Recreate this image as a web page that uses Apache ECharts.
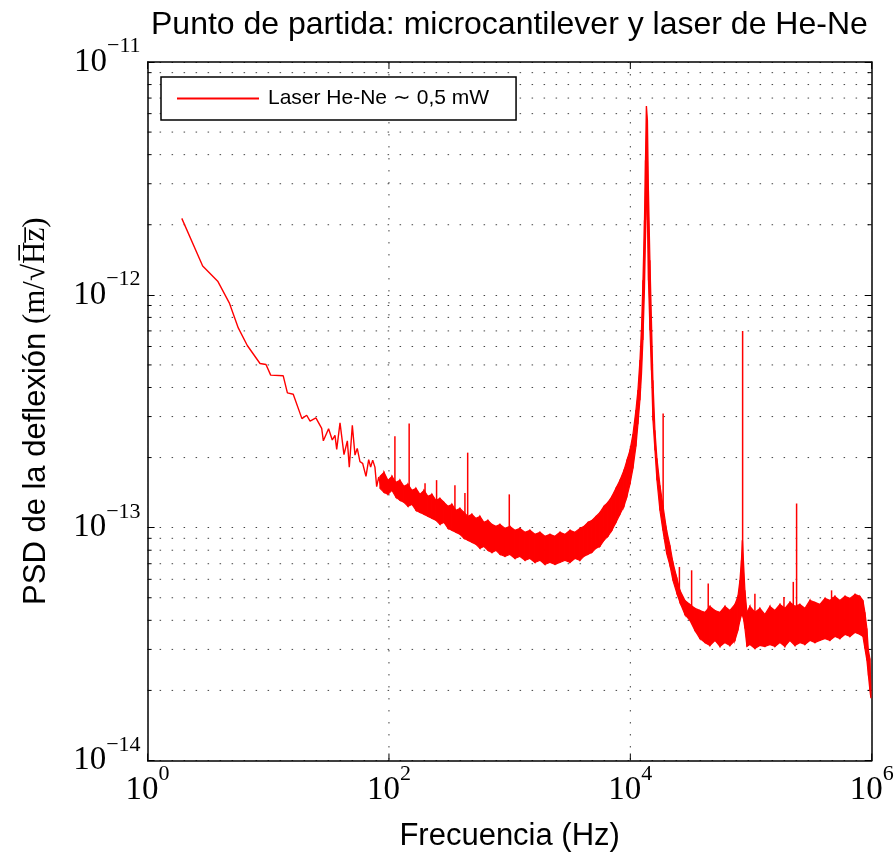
<!DOCTYPE html>
<html><head><meta charset="utf-8">
<script src="https://cdn.jsdelivr.net/npm/echarts@6/dist/echarts.min.js"></script>
<style>html,body{margin:0;padding:0;background:#fff}#c{width:895px;height:859px}</style>
</head><body><div id="c"></div>
<script>
const seriesName = 'Laser He-Ne \u223C 0,5 mW';
// low-frequency part (single trace)
const lowFreq = [1.92, 2.86, 3.81, 4.75, 5.64, 6.70, 8.54, 9.57, 10.47, 13.3, 14.4, 16.1, 19.0, 20.8, 22.2, 24.8, 27.7, 28.6, 31.6, 33.9, 35.7, 36.9, 39.3, 42.4, 45.2, 46.9, 49.7, 52.3, 54.6, 57.5, 60.5, 64.5, 67.9, 70.5, 73.3, 76.5, 79.1, 82.2, 85.3];
const lowPsd = [2.13e-12, 1.33e-12, 1.145e-12, 9.24e-13, 7.21e-13, 6.06e-13, 5.07e-13, 5.02e-13, 4.52e-13, 4.49e-13, 3.79e-13, 3.74e-13, 2.94e-13, 3.04e-13, 2.87e-13, 2.96e-13, 2.67e-13, 2.36e-13, 2.66e-13, 2.38e-13, 2.49e-13, 2.17e-13, 2.82e-13, 2.06e-13, 2.36e-13, 1.82e-13, 2.75e-13, 2.05e-13, 2.19e-13, 1.92e-13, 1.89e-13, 1.66e-13, 1.96e-13, 1.82e-13, 1.95e-13, 1.82e-13, 1.50e-13, 1.65e-13, 1.52e-13];
// dense noisy part: upper and lower envelope of the trace
const bandFreq = [84.2, 90.9, 98.1, 105.9, 114.3, 123.4, 133.1, 143.7, 155.1, 167.4, 180.6, 195.0, 210.4, 227.1, 245.1, 264.6, 285.5, 308.2, 332.6, 359.0, 387.5, 418.2, 451.4, 487.2, 525.8, 567.5, 612.5, 661.1, 713.5, 770.1, 831.2, 914.4, 1006, 1106, 1217, 1339, 1473, 1620, 1783, 1961, 2157, 2373, 2611, 2872, 3159, 3476, 3823, 4127, 4455, 4808, 5188, 5601, 6045, 6524, 7041, 7600, 8202, 8852, 9374, 9924, 10509, 11127, 11561, 12012, 12361, 12720, 13089, 13341, 13598, 13859, 14126, 14536, 14958, 15392, 15991, 16613, 17591, 18626, 19985, 21288, 22544, 24326, 25757, 28336, 31173, 34294, 37728, 41505, 45660, 50231, 55260, 60793, 66879, 73574, 77892, 80920, 83270, 84877, 86511, 89027, 92490, 97924, 107727, 118513, 130377, 143430, 157789, 173587, 190966, 210085, 231117, 254256, 279710, 307714, 338521, 372412, 409697, 450714, 495837, 545478, 600089, 660167, 726261, 798971, 845860, 878430, 912530, 939000, 966300, 984900];
const bandUpper = [1.661e-13, 1.728e-13, 1.597e-13, 1.661e-13, 1.565e-13, 1.597e-13, 1.505e-13, 1.535e-13, 1.446e-13, 1.475e-13, 1.390e-13, 1.446e-13, 1.363e-13, 1.390e-13, 1.310e-13, 1.336e-13, 1.285e-13, 1.235e-13, 1.259e-13, 1.187e-13, 1.210e-13, 1.163e-13, 1.118e-13, 1.141e-13, 1.096e-13, 1.118e-13, 1.054e-13, 1.075e-13, 1.033e-13, 1.013e-13, 1.033e-13, 9.93e-14, 1.013e-13, 9.74e-14, 9.93e-14, 9.55e-14, 9.74e-14, 9.36e-14, 9.55e-14, 9.18e-14, 9.36e-14, 9.18e-14, 9.55e-14, 9.36e-14, 9.74e-14, 9.55e-14, 9.93e-14, 1.013e-13, 1.054e-13, 1.075e-13, 1.118e-13, 1.163e-13, 1.235e-13, 1.285e-13, 1.363e-13, 1.475e-13, 1.597e-13, 1.763e-13, 1.946e-13, 2.149e-13, 2.517e-13, 3.198e-13, 3.898e-13, 5.248e-13, 7.045e-13, 1.155e-12, 2.092e-12, 3.788e-12, 6.464e-12, 5.628e-12, 2.815e-12, 1.408e-12, 7.78e-13, 4.295e-13, 2.619e-13, 1.985e-13, 1.520e-13, 1.247e-13, 9.74e-14, 8.39e-14, 7.09e-14, 6.06e-14, 5.38e-14, 4.87e-14, 4.68e-14, 4.50e-14, 4.41e-14, 4.33e-14, 4.59e-14, 4.41e-14, 4.33e-14, 4.59e-14, 4.41e-14, 4.68e-14, 5.07e-14, 5.94e-14, 7.24e-14, 8.82e-14, 7.24e-14, 5.38e-14, 4.33e-14, 4.59e-14, 4.33e-14, 4.50e-14, 4.24e-14, 4.59e-14, 4.41e-14, 4.68e-14, 4.50e-14, 4.78e-14, 4.59e-14, 4.68e-14, 4.50e-14, 4.87e-14, 4.78e-14, 4.68e-14, 4.97e-14, 4.87e-14, 5.07e-14, 4.87e-14, 5.07e-14, 4.97e-14, 5.17e-14, 5.07e-14, 4.87e-14, 4.33e-14, 3.69e-14, 2.97e-14, 2.74e-14, 2.00e-14];
const bandLower = [1.475e-13, 1.418e-13, 1.390e-13, 1.446e-13, 1.35e-13, 1.310e-13, 1.285e-13, 1.235e-13, 1.259e-13, 1.187e-13, 1.163e-13, 1.141e-13, 1.118e-13, 1.096e-13, 1.075e-13, 1.033e-13, 1.054e-13, 9.93e-14, 9.74e-14, 9.55e-14, 9.36e-14, 9.00e-14, 8.82e-14, 8.65e-14, 8.48e-14, 8.15e-14, 8.31e-14, 7.99e-14, 7.83e-14, 7.99e-14, 7.68e-14, 7.53e-14, 7.68e-14, 7.38e-14, 7.53e-14, 7.24e-14, 7.38e-14, 7.09e-14, 7.24e-14, 6.95e-14, 7.09e-14, 6.95e-14, 7.09e-14, 7.24e-14, 7.09e-14, 7.38e-14, 7.24e-14, 7.53e-14, 7.68e-14, 7.83e-14, 8.15e-14, 8.31e-14, 8.82e-14, 9.18e-14, 9.74e-14, 1.054e-13, 1.141e-13, 1.235e-13, 1.363e-13, 1.535e-13, 1.798e-13, 2.235e-13, 2.779e-13, 3.531e-13, 4.515e-13, 6.396e-13, 1.049e-12, 1.717e-12, 2.550e-12, 2.092e-12, 1.155e-12, 7.045e-13, 4.744e-13, 2.892e-13, 2.149e-13, 1.597e-13, 1.187e-13, 9.74e-14, 7.75e-14, 6.89e-14, 5.94e-14, 5.22e-14, 4.78e-14, 4.24e-14, 4.00e-14, 3.62e-14, 3.34e-14, 3.21e-14, 3.12e-14, 3.28e-14, 3.09e-14, 3.21e-14, 3.12e-14, 3.28e-14, 3.62e-14, 4.00e-14, 4.20e-14, 4.20e-14, 4.08e-14, 3.69e-14, 3.09e-14, 3.15e-14, 3.03e-14, 3.12e-14, 3.09e-14, 3.15e-14, 3.09e-14, 3.21e-14, 3.09e-14, 3.28e-14, 3.12e-14, 3.21e-14, 3.15e-14, 3.28e-14, 3.21e-14, 3.28e-14, 3.34e-14, 3.28e-14, 3.41e-14, 3.34e-14, 3.48e-14, 3.41e-14, 3.55e-14, 3.48e-14, 3.41e-14, 3.03e-14, 2.69e-14, 2.32e-14, 2.00e-14, 1.85e-14];
// narrow spurious peaks
const spikeFreq = [112, 147, 199, 248, 352, 426, 449, 993, 18700, 25500, 32200, 44200, 85200, 107700, 187500, 224000, 238600, 465000];
const spikeBase = [1.50e-13, 1.40e-13, 1.30e-13, 1.25e-13, 1.10e-13, 1.05e-13, 1.05e-13, 0.90e-13, 1.20e-13, 5.0e-14, 4.5e-14, 4.3e-14, 5.0e-14, 4.3e-14, 4.4e-14, 4.6e-14, 4.6e-14, 4.8e-14];
const spikePeak = [2.47e-13, 2.80e-13, 1.55e-13, 1.60e-13, 1.52e-13, 1.41e-13, 2.10e-13, 1.39e-13, 3.09e-13, 6.78e-14, 6.56e-14, 5.75e-14, 7.0e-13, 5.2e-14, 5.04e-14, 5.85e-14, 1.27e-13, 5.38e-14];
// tick values
const xMajor = [1, 1e2, 1e4, 1e6];
const yMinor = [2e-14, 3e-14, 4e-14, 5e-14, 6e-14, 7e-14, 8e-14, 9e-14, 2e-13, 3e-13, 4e-13, 5e-13, 6e-13, 7e-13, 8e-13, 9e-13, 2e-12, 3e-12, 4e-12, 5e-12, 6e-12, 7e-12, 8e-12, 9e-12];

const RED = '#ff0000';
const serif = "'Liberation Serif', 'DejaVu Serif', serif";
const sans = "'Liberation Sans', Arial, sans-serif";
function expLabel(v) {
  const e = Math.round(Math.log10(v));
  const s = e < 0 ? '\u2212' + (-e) : String(e);
  return '{b|10}{s|' + s + '}';
}
const richLab = {
  b: { fontFamily: serif, fontSize: 33, color: '#000', padding: [10, 0, 10, 0], verticalAlign: 'bottom' },
  s: { fontFamily: serif, fontSize: 22, color: '#000', verticalAlign: 'top' }
};
const dotted = { color: '#444', width: 1, type: [1.5, 10.5] };

const n = Math.min(bandFreq.length, bandUpper.length, bandLower.length);
const bandData = [];
for (let i = 0; i < n; i++) bandData.push([bandFreq[i], bandUpper[i], bandLower[i]]);

const chart = echarts.init(document.getElementById('c'), null, { renderer: 'canvas' });
chart.setOption({
  animation: false,
  backgroundColor: '#fff',
  title: {
    text: 'Punto de partida: microcantilever y laser de He-Ne',
    left: 146, top: 4,
    textStyle: { fontFamily: sans, fontSize: 32, fontWeight: 'normal', color: '#000' }
  },
  legend: {
    data: [seriesName],
    left: 161, top: 77,
    orient: 'vertical',
    backgroundColor: '#fff',
    borderColor: '#000', borderWidth: 1.5, borderRadius: 0,
    padding: [11, 27, 11, 16],
    itemWidth: 82, itemHeight: 2,
    icon: 'rect',
    textStyle: { fontFamily: sans, fontSize: 21, color: '#000', padding: [0, 0, 0, 4] }
  },
  grid: { left: 147.6, right: 23.3, top: 62, bottom: 98.5, containLabel: false },
  xAxis: [{
    type: 'log', logBase: 10, min: 1, max: 1e6,
    position: 'bottom',
    name: 'Frecuencia (Hz)', nameLocation: 'middle', nameGap: 60,
    nameTextStyle: { fontFamily: sans, fontSize: 31, color: '#000' },
    axisLine: { lineStyle: { color: '#000', width: 1.5 } },
    axisTick: { show: false },
    axisLabel: { show: false },
    splitLine: { show: false }
  }, {
    type: 'log', logBase: 10, min: 1, max: 1e6,
    position: 'top',
    axisLine: { lineStyle: { color: '#000', width: 1.5 } },
    axisTick: { show: false },
    axisLabel: { show: false },
    splitLine: { show: false }
  }],
  yAxis: [{
    type: 'log', logBase: 10, min: 1e-14, max: 1e-11, splitNumber: 3,
    position: 'left',
    name: '{a|PSD de la deflexi\u00f3n }{c|(m/\u221AH\u0305z\u0305)}',
    nameLocation: 'middle', nameGap: 96, nameRotate: 90,
    nameTextStyle: {
      rich: {
        a: { fontFamily: sans, fontSize: 31, color: '#000' },
        c: { fontFamily: serif, fontSize: 31, color: '#000' }
      }
    },
    axisLine: { lineStyle: { color: '#000', width: 1.5 } },
    axisTick: { inside: true, length: 7, lineStyle: { color: '#000', width: 1 } },
    axisLabel: { formatter: expLabel, rich: richLab, margin: 7 },
    splitLine: { show: true, lineStyle: dotted }
  }, {
    type: 'log', logBase: 10, min: 1e-14, max: 1e-11, splitNumber: 3,
    position: 'right',
    axisLine: { lineStyle: { color: '#000', width: 1.5 } },
    axisTick: { inside: true, length: 7, lineStyle: { color: '#000', width: 1 } },
    axisLabel: { show: false },
    splitLine: { show: false }
  }],
  series: [
    {
      name: 'minor-grid', type: 'custom', xAxisIndex: 0, yAxisIndex: 0, z: 1, silent: true,
      data: yMinor.map(v => [1, v]),
      encode: { x: 0, y: 1 },
      renderItem: function (params, api) {
        const cs = params.coordSys;
        const y = api.coord([api.value(0), api.value(1)])[1];
        return { type: 'group', children: [
          { type: 'line', shape: { x1: cs.x, y1: y, x2: cs.x + cs.width, y2: y }, style: { stroke: '#444', lineWidth: 1, lineDash: [1.5, 10.5] } },
          { type: 'line', shape: { x1: cs.x, y1: y, x2: cs.x + 4, y2: y }, style: { stroke: '#000', lineWidth: 1 } },
          { type: 'line', shape: { x1: cs.x + cs.width - 4, y1: y, x2: cs.x + cs.width, y2: y }, style: { stroke: '#000', lineWidth: 1 } }
        ] };
      }
    },
    {
      name: 'x-ticks', type: 'custom', xAxisIndex: 0, yAxisIndex: 0, z: 1, silent: true,
      data: xMajor.map(v => [v, 1e-14]),
      encode: { x: 0, y: 1 },
      renderItem: function (params, api) {
        const cs = params.coordSys;
        const v = api.value(0);
        const x = api.coord([v, api.value(1)])[0];
        const e = Math.round(Math.log10(v));
        const children = [
          { type: 'line', shape: { x1: x, y1: cs.y, x2: x, y2: cs.y + cs.height }, style: { stroke: '#444', lineWidth: 1, lineDash: [1.5, 10.5] } },
          { type: 'line', shape: { x1: x, y1: cs.y + cs.height, x2: x, y2: cs.y + cs.height - 7 }, style: { stroke: '#000', lineWidth: 1 } },
          { type: 'line', shape: { x1: x, y1: cs.y, x2: x, y2: cs.y + 7 }, style: { stroke: '#000', lineWidth: 1 } },
          { type: 'text', x: x, y: cs.y + cs.height + 3, style: {
            text: '{b|10}{s|' + e + '}', align: 'center', verticalAlign: 'top', rich: richLab
          } }
        ];
        return { type: 'group', children: children };
      }
    },
    {
      name: seriesName, type: 'line', xAxisIndex: 0, yAxisIndex: 0, z: 3,
      data: lowFreq.map((f, i) => [f, lowPsd[i]]),
      showSymbol: false, symbol: 'none',
      itemStyle: { color: RED },
      lineStyle: { color: RED, width: 1.4 }
    },
    {
      name: 'band', type: 'custom', xAxisIndex: 0, yAxisIndex: 0, z: 3, silent: true,
      data: bandData,
      encode: { x: 0, y: [1, 2] },
      renderItem: function (params, api) {
        const i = params.dataIndex;
        if (i >= n - 1) return null;
        const a1 = api.coord([bandFreq[i], bandUpper[i]]);
        const a2 = api.coord([bandFreq[i + 1], bandUpper[i + 1]]);
        const b2 = api.coord([bandFreq[i + 1], bandLower[i + 1]]);
        const b1 = api.coord([bandFreq[i], bandLower[i]]);
        return { type: 'polygon', shape: { points: [a1, a2, b2, b1] }, style: { fill: RED, stroke: RED, lineWidth: 1.2 } };
      }
    },
    {
      name: 'spikes', type: 'custom', xAxisIndex: 0, yAxisIndex: 0, z: 3, silent: true,
      data: spikeFreq.map((f, i) => [f, spikeBase[i], spikePeak[i]]),
      encode: { x: 0, y: [1, 2] },
      renderItem: function (params, api) {
        const p0 = api.coord([api.value(0), api.value(1)]);
        const p1 = api.coord([api.value(0), api.value(2)]);
        return { type: 'line', shape: { x1: p0[0], y1: p0[1], x2: p1[0], y2: p1[1] }, style: { stroke: RED, lineWidth: 1.5 } };
      }
    }
  ]
});
</script></body></html>
